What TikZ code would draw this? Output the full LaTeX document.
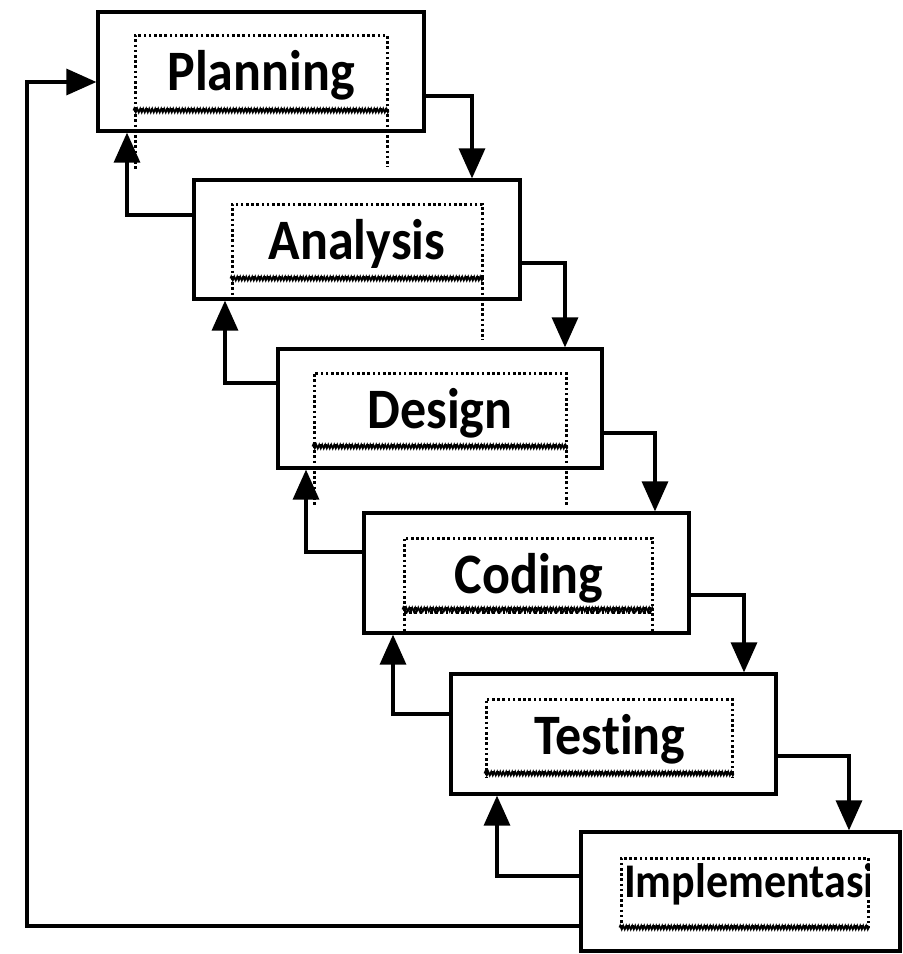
\documentclass[tikz,border=0pt]{standalone}
\usepackage{fontspec}
\usepackage{graphicx}
\setmainfont{Carlito}[Ligatures=NoCommon]
\usetikzlibrary{arrows.meta,decorations.pathmorphing}
\begin{document}
\begin{tikzpicture}[x=1pt,y=-1pt,
  outerbox/.style={draw=black,line width=3.2pt,rectangle,inner sep=0pt,fill=white},
  innerbox/.style={draw=black,line width=3pt,dash pattern=on 2.6pt off 2.6pt,rectangle,inner sep=0pt},
  wavy/.style={draw=black,line width=1.8pt,decorate,decoration={zigzag,segment length=3pt,amplitude=1.8pt}},
  dotline/.style={draw=black,line width=3pt,dash pattern=on 2.6pt off 2.6pt},
  conn/.style={draw=black,line width=3.2pt,-{Triangle[length=30pt,width=26pt]}},
  lbl/.style={inner sep=0pt,anchor=base,font=\bfseries\fontsize{52}{60}\selectfont},
]
\useasboundingbox (0,0) rectangle (903,954);
\fill[white] (0,0) rectangle (903,954);

% dotted extensions (behind boxes)
\draw[dotline] (135,109) -- (135,170);
\draw[dotline] (387,109) -- (387,167);
\draw[dotline] (482,277) -- (482,340);
\draw[dotline] (314,445) -- (314,507);
\draw[dotline] (566,445) -- (566,505);

% outer boxes
\node[outerbox,minimum width=326pt,minimum height=119pt] (P) at (261,71.5) {};
\node[outerbox,minimum width=326pt,minimum height=119pt] (A) at (357,239.5) {};
\node[outerbox,minimum width=324pt,minimum height=119pt] (D) at (440,408.5) {};
\node[outerbox,minimum width=325pt,minimum height=120pt] (C) at (526.5,573) {};
\node[outerbox,minimum width=325pt,minimum height=120pt] (T) at (613.5,734) {};
\node[outerbox,minimum width=319pt,minimum height=119pt] (I) at (740.5,891.5) {};

% dotted lines over boxes
\draw[dotline] (135,109) -- (135,131);
\draw[dotline] (387,109) -- (387,131);
\draw[dotline] (232,277) -- (232,299);
\draw[dotline] (482,277) -- (482,299);
\draw[dotline] (314,445) -- (314,468);
\draw[dotline] (566,445) -- (566,468);
\draw[dotline] (404,608) -- (404,635);
\draw[dotline] (652,608) -- (652,635);
\draw[dotline] (404,612) -- (652,612);
\draw[dotline] (486,772) -- (486,778);
\draw[dotline] (732,772) -- (732,778);

% inner text frames
\node[innerbox,minimum width=252pt,minimum height=74pt] (Pi) at (261,72) {};
\node[innerbox,minimum width=250pt,minimum height=73pt] (Ai) at (357,240.5) {};
\node[innerbox,minimum width=252pt,minimum height=72pt] (Di) at (440,409) {};
\node[innerbox,minimum width=248pt,minimum height=70pt] (Ci) at (528,573) {};
\node[innerbox,minimum width=246pt,minimum height=73pt] (Ti) at (609,735.5) {};
\node[innerbox,minimum width=247pt,minimum height=68pt] (Ii) at (744.5,892) {};

% wavy bottoms
\draw[wavy] (Pi.south west) -- (Pi.south east);
\draw[wavy] (Ai.south west) -- (Ai.south east);
\draw[wavy] (Di.south west) -- (Di.south east);
\draw[wavy] (Ci.south west) -- (Ci.south east);
\draw[wavy] (Ti.south west) -- (Ti.south east);
\draw[wavy] (Ii.south west) -- (Ii.south east);

% labels
\node[lbl] (Pt) at (261,90) {\scalebox{1}[1.1]{Planning}};
\node[lbl] (At) at (357,259) {\scalebox{1}[1.1]{Analysis}};
\node[lbl] (Dt) at (440,428) {\scalebox{1}[1.1]{Design}};
\node[lbl] (Ct) at (529,593) {\scalebox{1}[1.1]{Coding}};
\node[lbl] (Tt) at (610,754) {\scalebox{1}[1.1]{Testing}};
\begin{scope}
\clip (Ii.south west) rectangle (Ii.north east);
\node[inner sep=0pt,anchor=base west,font=\bfseries\fontsize{44}{52}\selectfont] (It) at (624,897) {\scalebox{1}[1.1]{Implementasi}};
\end{scope}

% forward connectors
\draw[conn] ([yshift=-24.5pt]P.east) -| ([xshift=115pt]A.north);
\draw[conn] ([yshift=-23.5pt]A.east) -| ([xshift=125pt]D.north);
\draw[conn] ([yshift=-24.5pt]D.east) -| ([xshift=128.5pt]C.north);
\draw[conn] ([yshift=-22pt]C.east) -| ([xshift=130.5pt]T.north);
\draw[conn] ([yshift=-22pt]T.east) -| ([xshift=108.5pt]I.north);

% return connectors
\draw[conn] ([yshift=24.5pt]A.west) -| ([xshift=-134pt]P.south);
\draw[conn] ([yshift=25.5pt]D.west) -| ([xshift=-132pt]A.south);
\draw[conn] ([yshift=21pt]C.west) -| ([xshift=-134pt]D.south);
\draw[conn] ([yshift=20pt]T.west) -| ([xshift=-133.5pt]C.south);
\draw[conn] ([yshift=15.5pt]I.west) -| ([xshift=-116.5pt]T.south);

% loop back
\coordinate (loopx) at (27,500);
\draw[conn] ([yshift=-34.5pt]I.west) -| (loopx) |- ([yshift=-10.5pt]P.west);
\end{tikzpicture}
\end{document}
